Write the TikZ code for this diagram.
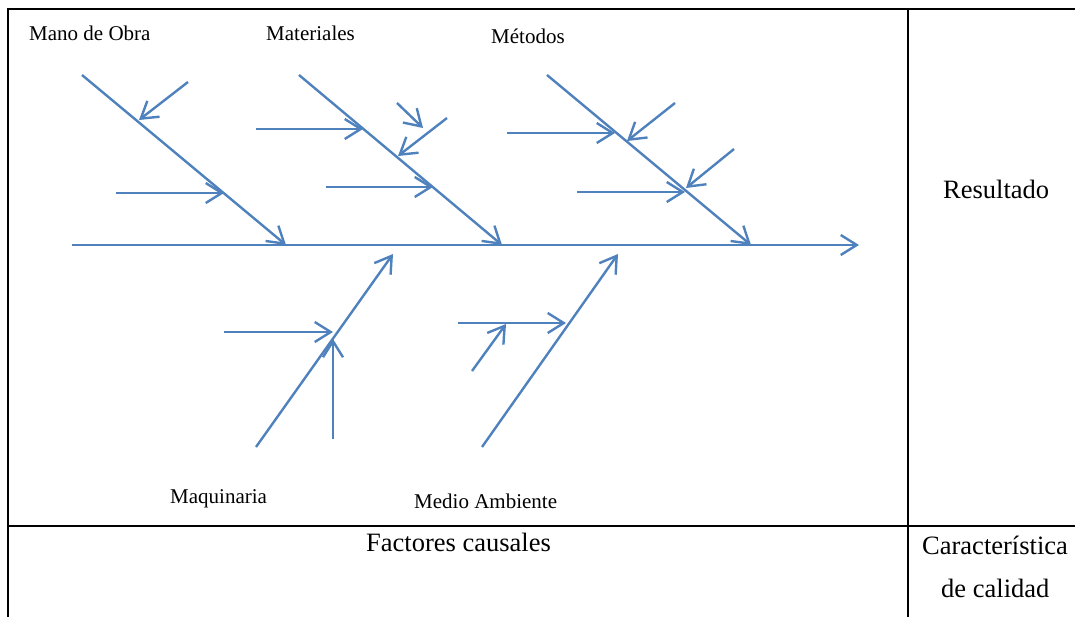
\documentclass[tikz,border=0pt]{standalone}
\usepackage{fontspec}
\setmainfont{Liberation Serif}
\usetikzlibrary{arrows.meta}
\definecolor{boneblue}{HTML}{4F81BD}
\begin{document}
\begin{tikzpicture}[x=1pt,y=-1pt,
  bone/.style={draw=boneblue,line width=2.4pt,-{Straight Barb[length=16pt,width=20pt]}},
  frameline/.style={draw=black,line width=2.2pt},
  lbl/.style={inner sep=0pt,anchor=base west,font=\fontsize{21}{25}\selectfont},
  cell/.style={inner sep=0pt,anchor=base west,font=\fontsize{26.5}{32}\selectfont}]
\useasboundingbox (0,0) rectangle (1075,616);

% table frame
\draw[frameline] (8,617) -- (8,9) -- (1076,9);
\draw[frameline] (908,9) -- (908,617);
\draw[frameline] (8,526) -- (1076,526);

% category labels
\node[lbl] (mano) at (29,40.5) {Mano de Obra};
\node[lbl] (mat)  at (266,40)  {Materiales};
\node[lbl] (met)  at (491,43)  {Métodos};
\node[lbl] (maq)  at (170,503) {Maquinaria};
\node[lbl] (med)  at (414,508) {Medio Ambiente};

% table cells
\node[cell] (res)  at (943,198) {Resultado};
\node[cell] (fac)  at (366,551) {Factores causales};
\node[cell] (car1) at (922,554) {Característica};
\node[cell] (car2) at (941,597) {de calidad};

% spine
\coordinate (s0) at (72,245);
\coordinate (s1) at (859,245);
\draw[bone] (s0) -- (s1);

% Mano de Obra bone
\coordinate (a0) at (82,75);   \coordinate (a1) at (286,245);
\coordinate (a2) at (188,82);  \coordinate (a3) at (139,120);
\coordinate (a4) at (116,193); \coordinate (a5) at (224,193);
\draw[bone] (a0) -- (a1);
\draw[bone] (a2) -- (a3);
\draw[bone] (a4) -- (a5);

% Materiales bone
\coordinate (b0) at (299,75);  \coordinate (b1) at (502,245);
\coordinate (b2) at (256,129); \coordinate (b3) at (363,129);
\coordinate (b4) at (326,187); \coordinate (b5) at (433,187);
\coordinate (b6) at (447,118); \coordinate (b7) at (398,156);
\coordinate (b8) at (397,103); \coordinate (b9) at (423,128);
\draw[bone] (b0) -- (b1);
\draw[bone] (b2) -- (b3);
\draw[bone] (b4) -- (b5);
\draw[bone] (b6) -- (b7);
\draw[bone] (b8) -- (b9);

% Metodos bone
\coordinate (c0) at (547,75);  \coordinate (c1) at (751,245);
\coordinate (c2) at (507,133); \coordinate (c3) at (615,133);
\coordinate (c4) at (675,103); \coordinate (c5) at (627,141);
\coordinate (c6) at (577,192); \coordinate (c7) at (685,192);
\coordinate (c8) at (734,149); \coordinate (c9) at (686,188);
\draw[bone] (c0) -- (c1);
\draw[bone] (c2) -- (c3);
\draw[bone] (c4) -- (c5);
\draw[bone] (c6) -- (c7);
\draw[bone] (c8) -- (c9);

% Maquinaria bone
\coordinate (d0) at (256,447); \coordinate (d1) at (393,254);
\coordinate (d2) at (224,332); \coordinate (d3) at (333,332);
\coordinate (d4) at (333,439); \coordinate (d5) at (333,339);
\draw[bone] (d0) -- (d1);
\draw[bone] (d2) -- (d3);
\draw[bone] (d4) -- (d5);

% Medio Ambiente bone
\coordinate (e0) at (482,447); \coordinate (e1) at (618,254);
\coordinate (e2) at (458,323); \coordinate (e3) at (566,323);
\coordinate (e4) at (472,371); \coordinate (e5) at (506,324);
\draw[bone] (e0) -- (e1);
\draw[bone] (e2) -- (e3);
\draw[bone] (e4) -- (e5);
\end{tikzpicture}
\end{document}
